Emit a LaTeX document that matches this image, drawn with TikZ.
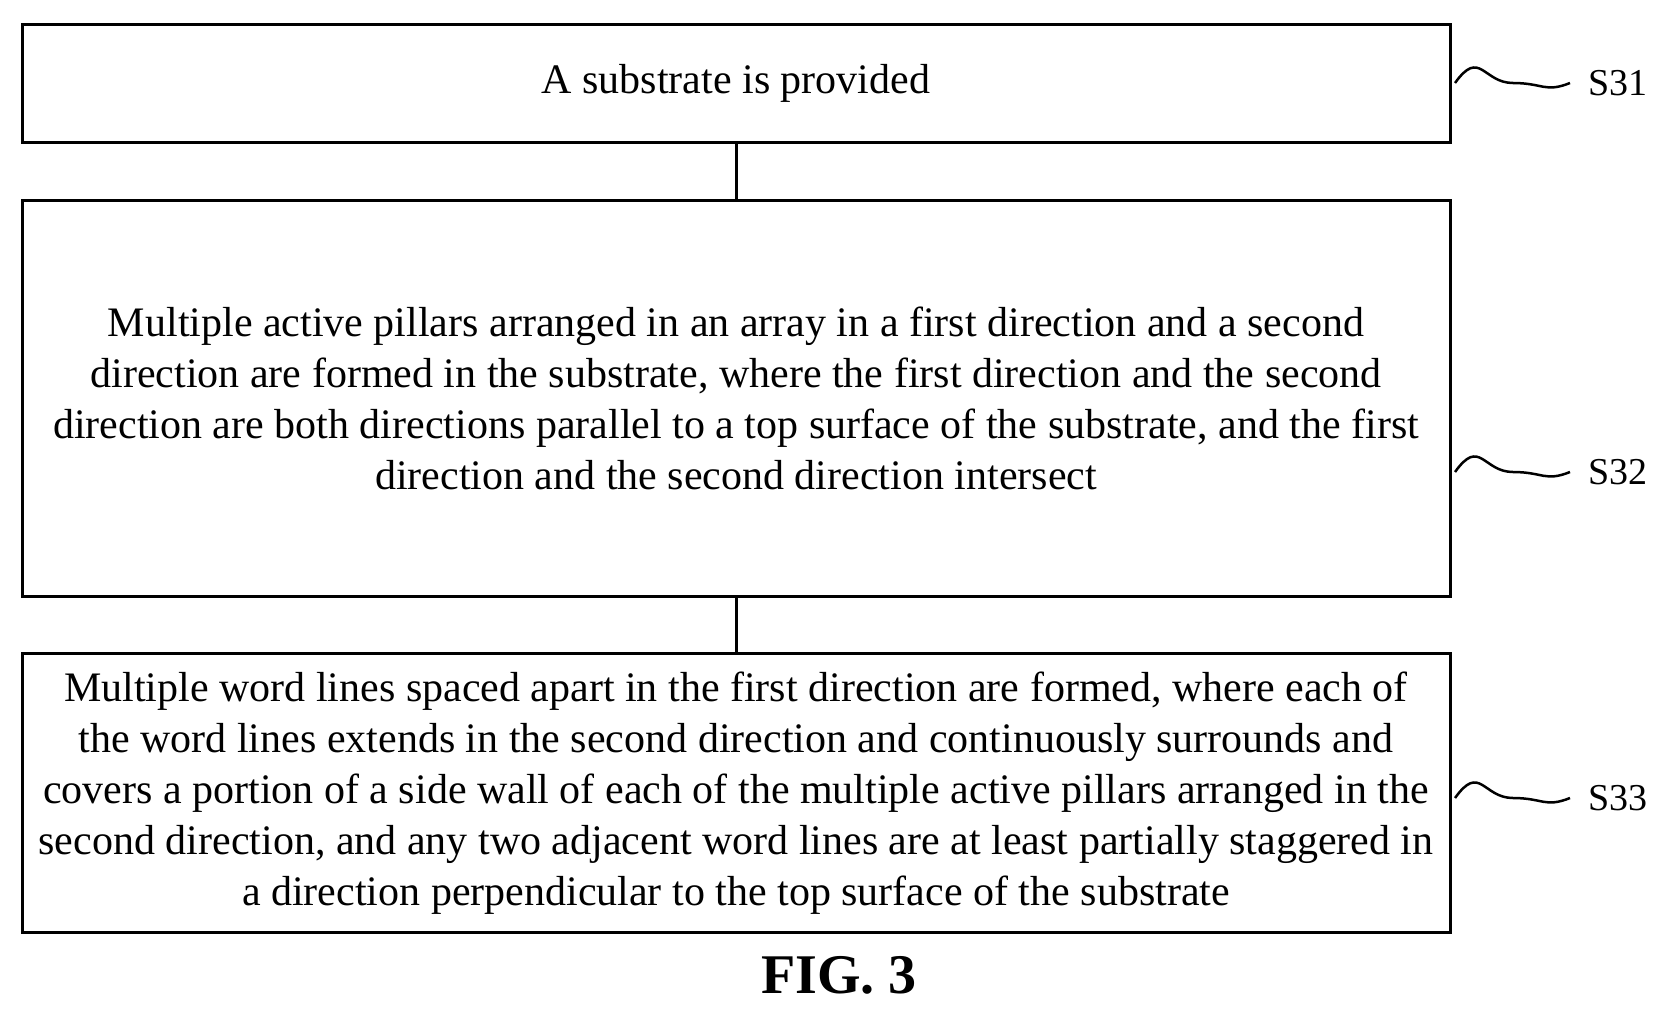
\documentclass[tikz,border=0pt]{standalone}
\usepackage{fontspec}
\setmainfont{Liberation Serif}
\begin{document}
\begin{tikzpicture}[x=1pt,y=-1pt,
  stepbox/.style={draw,line width=3pt,inner sep=0pt,align=center,font=\fontsize{42}{51}\selectfont},
  lbl/.style={font=\fontsize{38}{40}\selectfont,anchor=west}]
\useasboundingbox (0,0) rectangle (1667,1015);
\node[stepbox,minimum width=1428pt,minimum height=118pt] (b1) at (736,83) {A substrate is provided};
\node[stepbox,minimum width=1428pt,minimum height=396pt] (b2) at (736,398) {Multiple active pillars arranged in an array in a first direction and a second\\direction are formed in the substrate, where the first direction and the second\\direction are both directions parallel to a top surface of the substrate, and the first\\direction and the second direction intersect};
\node[stepbox,minimum width=1428pt,minimum height=279pt] (b3) at (736,793) {Multiple word lines spaced apart in the first direction are formed, where each of\\the word lines extends in the second direction and continuously surrounds and\\covers a portion of a side wall of each of the multiple active pillars arranged in the\\second direction, and any two adjacent word lines are at least partially staggered in\\a direction perpendicular to the top surface of the substrate};
\draw[line width=3pt] (b1.south) -- (b2.north);
\draw[line width=3pt] (b2.south) -- (b3.north);
\foreach \b/\t/\y in {b1/S31/83,b2/S32/472,b3/S33/798}{
  \coordinate (s\t) at (1455,\y);
  \coordinate (e\t) at (1570,\y);
  \draw[line width=2.5pt] (s\t) .. controls +(25,-35) and +(-30,0) .. +(58,0) .. controls +(30,0) and +(-25,10) .. (e\t);
  \node[lbl] (l\t) at (1585,\y) {\t};
}
\node[font=\bfseries\fontsize{56}{60}\selectfont] (fig) at (839,975) {FIG. 3};
\end{tikzpicture}
\end{document}
